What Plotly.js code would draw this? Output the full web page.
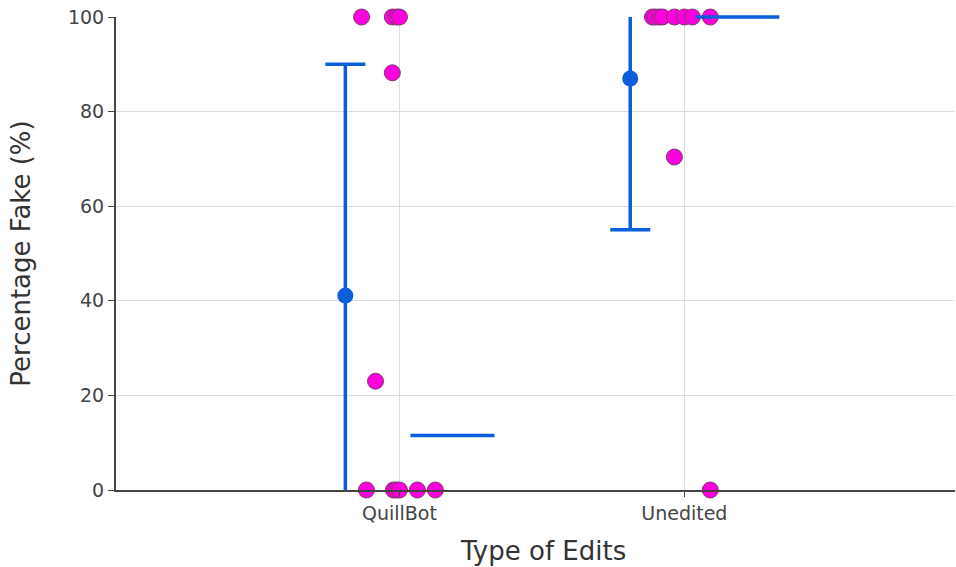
<!DOCTYPE html>
<html>
<head>
<meta charset="utf-8">
<script src="https://cdn.plot.ly/plotly-3.0.1.min.js"></script>
<style>html,body{margin:0;padding:0;background:#fff;}#chart{width:956px;height:567px;}</style>
</head>
<body>
<div id="chart"></div>
<script>
// Categories
const categories = ["QuillBot", "Unedited"];

// Individual observations (Percentage Fake) and their horizontal jitter (category units)
const quillValues = [100, 100, 100, 100, 88.2, 23, 0, 0, 0, 0, 0, 0];
const quillJitter = [-0.133, -0.025, -0.01, 0.0, -0.025, -0.084, -0.116, -0.021, -0.01, 0.0, 0.063, 0.126];
const uneditedValues = [100, 100, 100, 100, 100, 100, 100, 100, 70.4, 0];
const uneditedJitter = [-0.112, -0.102, -0.088, -0.077, -0.035, 0.0, 0.028, 0.091, -0.035, 0.091];

// Summary statistics
const means = [41.1, 87.0];
const ciHalfWidth = [48.9, 32.0];
const medians = [11.5, 100];

// Tick labels
const yTicks = [0, 20, 40, 60, 80, 100];
const xTitle = "Type of Edits";
const yTitle = "Percentage Fake (%)";

const blue = "#0a5ddb";
const pink = "#ff00dd";

const traces = [];

// Error bars with means, offset to the left
traces.push({
  type: "scatter", mode: "markers",
  x: categories.map((c, i) => i - 0.19),
  y: means,
  marker: {color: blue, size: 16},
  error_y: {type: "data", array: ciHalfWidth, visible: true, color: blue, thickness: 3.5, width: 20},
  cliponaxis: true,
  showlegend: false, hoverinfo: "y"
});

// Individual points
const groups = [[quillValues, quillJitter], [uneditedValues, uneditedJitter]];
groups.forEach((g, i) => {
  traces.push({
    type: "scatter", mode: "markers",
    x: g[1].map(j => i + j),
    y: g[0],
    marker: {color: pink, size: 16, line: {color: "#7a3a6a", width: 1}},
    cliponaxis: false,
    showlegend: false, hoverinfo: "y"
  });
});

// Median lines, offset to the right (horizontal line markers so they are not clipped)
traces.push({
  type: "scatter", mode: "markers",
  x: categories.map((c, i) => i + 0.186),
  y: medians,
  marker: {symbol: "line-ew-open", size: 60, color: blue, line: {color: blue, width: 3.5}},
  cliponaxis: false,
  showlegend: false, hoverinfo: "y"
});

const layout = {
  width: 956, height: 567,
  margin: {l: 116, r: 1, t: 17, b: 77},
  paper_bgcolor: "#fff", plot_bgcolor: "#fff",
  font: {family: "DejaVu Sans, sans-serif", color: "#444", size: 19},
  showlegend: false,
  xaxis: {
    range: [-0.995, 1.95],
    tickvals: categories.map((c, i) => i),
    ticktext: categories,
    showgrid: true, gridcolor: "#dcdcdc", gridwidth: 1,
    showline: true, linecolor: "#444", linewidth: 2,
    ticks: "outside", ticklen: 5, tickcolor: "#444",
    zeroline: false,
    tickfont: {size: 19, color: "#444"}
  },
  yaxis: {
    range: [0, 100],
    tickvals: yTicks,
    showgrid: true, gridcolor: "#dcdcdc", gridwidth: 1,
    showline: true, linecolor: "#444", linewidth: 2,
    ticks: "outside", ticklen: 6, tickcolor: "#444",
    zeroline: false,
    tickfont: {size: 19, color: "#444"},
    title: {text: yTitle, font: {size: 26, color: "#333"}, standoff: 30}
  },
  annotations: [{
    text: xTitle, xref: "paper", yref: "paper",
    x: 0.509, y: -0.129, xanchor: "center", yanchor: "middle",
    showarrow: false, font: {size: 26, color: "#333"}
  }]
};

Plotly.newPlot("chart", traces, layout, {displayModeBar: false, staticPlot: true});
</script>
</body>
</html>
